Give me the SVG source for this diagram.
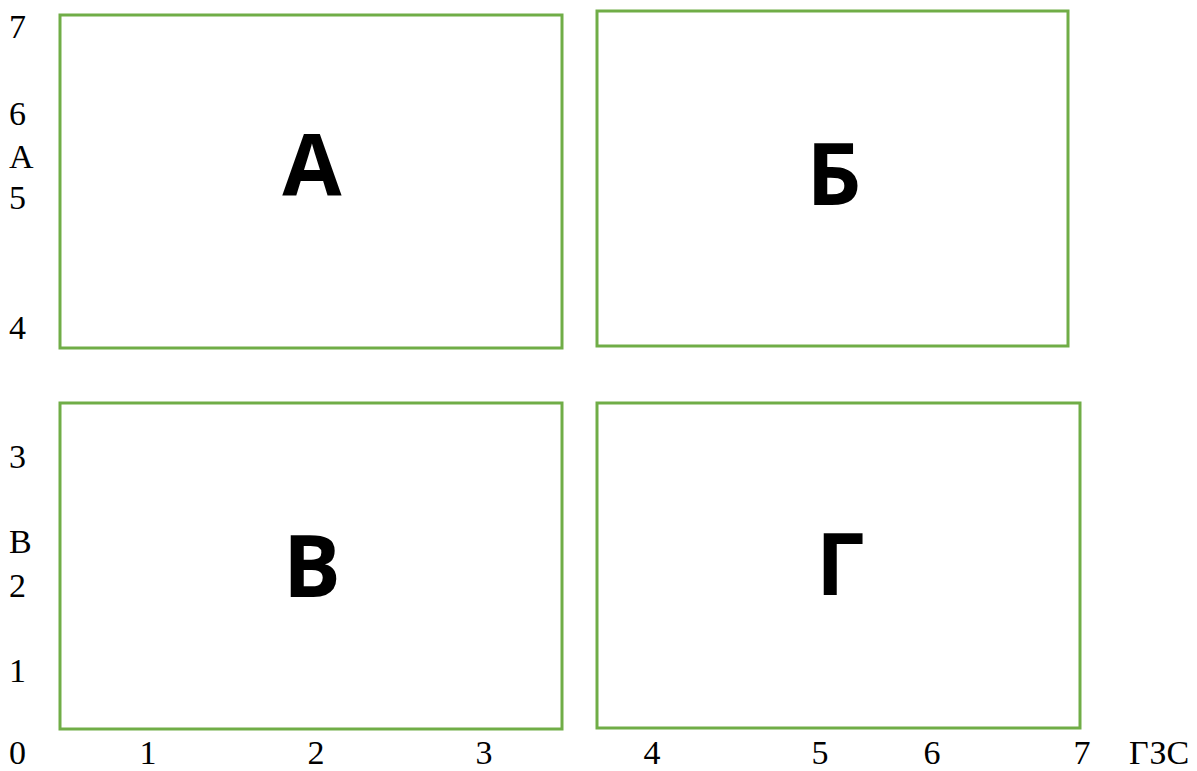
<svg xmlns="http://www.w3.org/2000/svg" width="1197" height="771" viewBox="0 0 1197 771">
<style>
.box{fill:none;stroke:#70AD47;stroke-width:3}
.big{font-family:"Open Sans","Liberation Sans",sans-serif;font-weight:bold;font-size:86px;fill:#000;text-anchor:middle}
.ax{font-family:"Liberation Serif","Times New Roman",serif;font-size:34px;fill:#000}
.m{text-anchor:middle}
</style>
<rect width="1197" height="771" fill="#fff"/>
<g id="nodeA"><rect class="box" x="60" y="15" width="502" height="333"/><text class="big" x="312" y="196">А</text></g>
<g id="nodeB"><rect class="box" x="597" y="11" width="471" height="335"/><text class="big" x="834" y="205">Б</text></g>
<g id="nodeV"><rect class="box" x="60" y="403" width="502" height="326"/><text class="big" x="312" y="597">В</text></g>
<g id="nodeG"><rect class="box" x="597" y="403" width="483" height="325"/><text class="big" x="840" y="595">Г</text></g>
<g id="connectors"></g>
<g id="axis">
<text class="ax" x="9" y="38">7</text>
<text class="ax" x="9" y="125">6</text>
<text class="ax" x="9" y="168">А</text>
<text class="ax" x="9" y="209">5</text>
<text class="ax" x="9" y="339">4</text>
<text class="ax" x="9" y="468">3</text>
<text class="ax" x="9" y="553">В</text>
<text class="ax" x="9" y="597">2</text>
<text class="ax" x="9" y="682">1</text>
<text class="ax" x="9" y="764">0</text>
<text class="ax m" x="148" y="764">1</text>
<text class="ax m" x="316" y="764">2</text>
<text class="ax m" x="484" y="764">3</text>
<text class="ax m" x="652" y="764">4</text>
<text class="ax m" x="820" y="764">5</text>
<text class="ax m" x="932" y="764">6</text>
<text class="ax m" x="1082" y="764">7</text>
<text class="ax" x="1129" y="764">ГЗС</text>
</g>
</svg>
